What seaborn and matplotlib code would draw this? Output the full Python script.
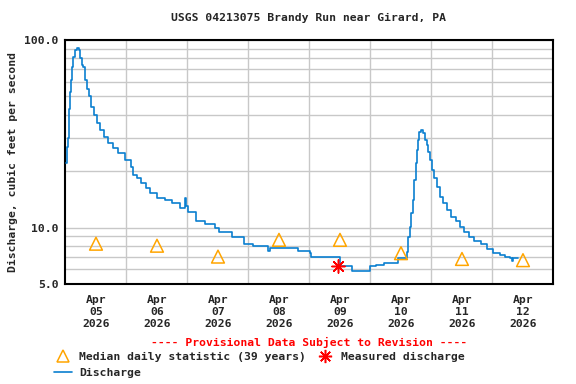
import numpy as np
import pandas as pd
import matplotlib
matplotlib.use("Agg")
import matplotlib.pyplot as plt
import matplotlib.ticker as mticker
from matplotlib.lines import Line2D
import seaborn as sns

# ---- data ----
start = pd.Timestamp("2026-04-05 00:00")
q_hours = [0.2, 0.4, 1.0, 1.2, 1.8, 2.2, 2.6, 3.1, 3.7, 4.5, 5.3, 5.7, 5.9, 6.5, 6.9,
           7.7, 8.5, 9.2, 10.0, 11.2, 12.4, 13.6, 15.1, 16.7, 18.7, 20.7, 23.4, 25.8,
           26.6, 28.1, 29.7, 31.7, 33.2, 36.0, 39.1, 41.9, 45.0, 47.0, 47.2, 47.6,
           48.2, 51.3, 54.9, 58.8, 60.4, 65.5, 70.3, 73.8, 79.7, 80.5, 90.7, 91.5,
           96.2, 96.6, 106.8, 108.0, 112.7, 119.0, 119.8, 122.2, 125.3, 130.0, 130.8,
           133.9, 134.3, 134.7, 135.5, 135.9, 136.7, 137.1, 137.9, 138.3, 138.7,
           139.1, 139.9, 140.7, 141.5, 142.2, 142.6, 143.4, 144.2, 145.0, 146.2,
           147.4, 148.6, 150.1, 151.7, 153.6, 155.2, 156.8, 158.7, 160.7, 163.5,
           165.8, 168.2, 170.9, 172.9, 174.9, 175.6, 176.0, 178.0]
q_values = [22, 27, 30, 43, 53, 61, 72, 81, 88, 91, 89, 89, 80, 74, 72,
            61, 55, 50, 44, 40, 36, 33, 30.5, 28.3, 26.5, 25, 23, 21,
            19.1, 18.4, 17.3, 16.3, 15.3, 14.4, 14.0, 13.5, 12.7, 12.7, 14.4, 13.0,
            12.1, 10.9, 10.5, 10.0, 9.5, 8.9, 8.2, 8.0, 7.5, 7.8, 7.8, 7.5,
            7.3, 7.0, 7.0, 6.2, 5.9, 5.9, 6.25, 6.3, 6.5, 6.5, 6.9,
            6.9, 7.4, 8.9, 10.1, 11.9, 14.0, 18, 22, 25.9, 29.2,
            32.4, 33, 31.9, 29.2, 27.6, 25.4, 22.9, 20.2, 18.4, 16.5,
            14.6, 13.5, 12.4, 11.4, 10.8, 10.1, 9.5, 8.9, 8.5, 8.2,
            7.7, 7.3, 7.1, 7.0, 6.9, 6.6, 6.9, 6.9]

median_days = ["2026-04-05", "2026-04-06", "2026-04-07", "2026-04-08",
               "2026-04-09", "2026-04-10", "2026-04-11", "2026-04-12"]
median_values = [8.2, 8.0, 7.0, 8.6, 8.6, 7.3, 6.8, 6.7]

measured_time = ["2026-04-09 11:10"]
measured_value = [6.2]

day_labels = ["Apr\n05\n2026", "Apr\n06\n2026", "Apr\n07\n2026", "Apr\n08\n2026",
              "Apr\n09\n2026", "Apr\n10\n2026", "Apr\n11\n2026", "Apr\n12\n2026"]

# ---- frames ----
q_df = pd.DataFrame({"time": start + pd.to_timedelta(q_hours, unit="h"),
                     "q": q_values})
med_df = pd.DataFrame({"time": pd.to_datetime(median_days) + pd.Timedelta(hours=12),
                       "q": median_values})
meas_df = pd.DataFrame({"time": pd.to_datetime(measured_time), "q": measured_value})

sns.set_style("white")
FONT = "DejaVu Sans Mono"
plt.rcParams["font.family"] = [FONT]
plt.rcParams["font.weight"] = "bold"
FS = 8.2

LINE_C = "#0a7fd0"
MED_C = "#ffa500"
MEAS_C = "#ff0000"

fig = plt.figure(figsize=(5.76, 3.84), dpi=100)
ax = fig.add_axes([0.1137, 0.2604, 0.8472, 0.6354])

sns.lineplot(data=q_df, x="time", y="q", ax=ax, color=LINE_C, linewidth=1.2,
             drawstyle="steps-post", legend=False, zorder=3)
sns.scatterplot(data=med_df, x="time", y="q", ax=ax, marker="^", s=85,
                legend=False, zorder=4)
coll = ax.collections[-1]
coll.set_facecolor("none")
coll.set_edgecolor(MED_C)
coll.set_linewidth(1.1)
sns.scatterplot(data=meas_df, x="time", y="q", ax=ax, marker=(8, 2, 0), s=90,
                color=MEAS_C, edgecolor=MEAS_C, linewidth=1.1, legend=False, zorder=5)

ax.set_yscale("log")
ax.set_ylim(5, 100)
ax.set_xlim(pd.Timestamp("2026-04-05"), pd.Timestamp("2026-04-13"))

ax.yaxis.set_major_locator(mticker.FixedLocator([5, 10, 100]))
ax.yaxis.set_major_formatter(mticker.FixedFormatter(["5.0", "10.0", "100.0"]))
ax.yaxis.set_minor_locator(mticker.FixedLocator([6, 7, 8, 9, 20, 30, 40, 50, 60, 70, 80, 90]))
ax.yaxis.set_minor_formatter(mticker.NullFormatter())

noon = pd.to_datetime(median_days) + pd.Timedelta(hours=12)
midn = pd.date_range("2026-04-06", "2026-04-12", freq="D")
ax.set_xticks(noon)
ax.set_xticklabels(day_labels)
ax.set_xticks(midn, minor=True)

ax.grid(False)
ax.grid(True, which="minor", axis="both", color="#c8c8c8", linewidth=1.0, zorder=0)
ax.grid(True, which="major", axis="y", color="#c8c8c8", linewidth=1.0, zorder=0)
ax.set_axisbelow(True)

ax.tick_params(axis="both", which="both", length=0)
ax.tick_params(axis="y", pad=5, labelsize=FS)
ax.tick_params(axis="x", pad=8, labelsize=FS)
for lab in ax.get_xticklabels():
    lab.set_linespacing(1.25)
    lab.set_fontweight("bold")
for lab in ax.get_yticklabels():
    lab.set_fontweight("bold")

for sp in ax.spines.values():
    sp.set_color("black")
    sp.set_linewidth(1.5)
    sp.set_visible(True)

ax.set_xlabel("")
ax.set_ylabel("Discharge, cubic feet per second", fontsize=FS, fontweight="bold")
ax.yaxis.set_label_coords(-0.098, 0.5)

fig.text(0.535, 0.953, "USGS 04213075 Brandy Run near Girard, PA", ha="center",
         va="center", fontsize=FS, fontweight="bold")
fig.text(0.537, 0.107, "---- Provisional Data Subject to Revision ----", ha="center",
         va="center", fontsize=FS, fontweight="bold", color=MEAS_C)

handles = [
    Line2D([], [], linestyle="none", marker="^", markersize=8.5, markerfacecolor="none",
           markeredgecolor=MED_C, markeredgewidth=1.1),
    Line2D([], [], color=LINE_C, linewidth=1.2),
    Line2D([], [], linestyle="none", marker=(8, 2, 0), markersize=9.5,
           color=MEAS_C, markeredgecolor=MEAS_C, markeredgewidth=1.1),
]
labels = ["Median daily statistic (39 years)", "Discharge", "Measured discharge"]
leg = fig.legend(handles, labels, loc="upper left", bbox_to_anchor=(0.094, 0.083),
                 ncol=2, frameon=False, handlelength=1.6,
                 handletextpad=0.6, columnspacing=0.9, labelspacing=0.5,
                 borderpad=0, borderaxespad=0, prop={"family": FONT, "weight": "bold",
                                                     "size": FS})

fig.savefig("out.png", dpi=100)
